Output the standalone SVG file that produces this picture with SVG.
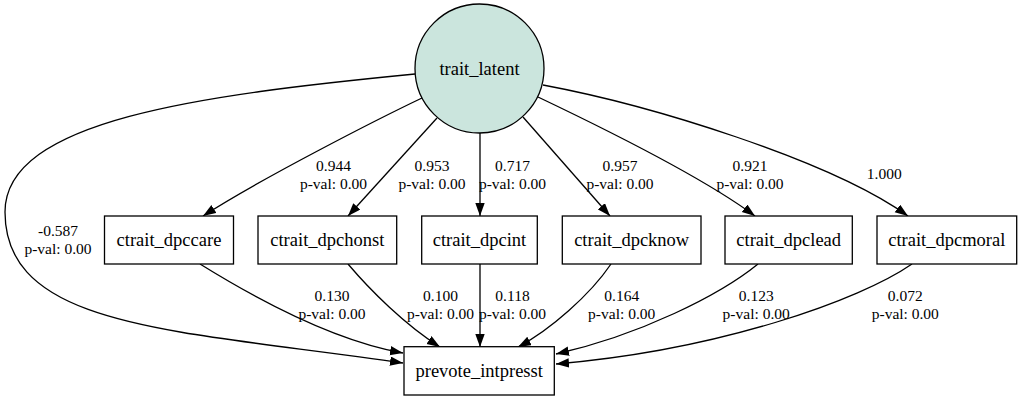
<svg xmlns="http://www.w3.org/2000/svg" width="1023" height="400" viewBox="0 0 1023 400">
<style>
.n{fill:#fff;stroke:#000;stroke-width:1.3}
.c{fill:#cbe5dd;stroke:#000;stroke-width:1.3}
.t{font-family:"Liberation Serif","Times New Roman",serif;font-size:18.5px;text-anchor:middle;fill:#000}
.l{font-family:"Liberation Serif","Times New Roman",serif;font-size:15.5px;text-anchor:middle;fill:#000}
.e{fill:none;stroke:#000;stroke-width:1.3;marker-end:url(#a)}
</style>
<defs>
<marker id="a" markerUnits="userSpaceOnUse" markerWidth="14" markerHeight="10" refX="13" refY="4.7" orient="auto">
<path d="M0,0 L13,4.7 L0,9.4 z" fill="#000"/>
</marker>
</defs>
<rect width="1023" height="400" fill="#fff"/>
<g id="connectors">
<path class="e" d="M415,74 C200,95 5,120 5,212 C5,330 180,330 403,363"/>
<path class="e" d="M422,98 C380,118 262,178 203,216"/>
<path class="e" d="M437,118 L348,216"/>
<path class="e" d="M480,133 L480,216"/>
<path class="e" d="M523,117 L610,216"/>
<path class="e" d="M538,97 C580,117 700,175 755,216"/>
<path class="e" d="M543,85 C650,105 830,160 908,216"/>
<path class="e" d="M200,264 C250,295 330,340 403,353"/>
<path class="e" d="M348,264 C370,290 405,325 440,347"/>
<path class="e" d="M480,264 L480,347"/>
<path class="e" d="M611,264 C590,295 550,330 518,347"/>
<path class="e" d="M758,264 C720,295 640,335 556,354"/>
<path class="e" d="M912,264 C860,300 720,350 556,364"/>
<text class="l" x="58" y="236">-0.587</text><text class="l" x="58" y="254">p-val: 0.00</text>
<text class="l" x="333.5" y="170.5">0.944</text><text class="l" x="333.5" y="189">p-val: 0.00</text>
<text class="l" x="432" y="170.5">0.953</text><text class="l" x="432" y="189">p-val: 0.00</text>
<text class="l" x="512.5" y="170.5">0.717</text><text class="l" x="512.5" y="189">p-val: 0.00</text>
<text class="l" x="620" y="170.5">0.957</text><text class="l" x="620" y="189">p-val: 0.00</text>
<text class="l" x="750" y="170.5">0.921</text><text class="l" x="750" y="189">p-val: 0.00</text>
<text class="l" x="884.3" y="179">1.000</text>
<text class="l" x="332" y="300.5">0.130</text><text class="l" x="332" y="318.5">p-val: 0.00</text>
<text class="l" x="440.5" y="300.5">0.100</text><text class="l" x="440.5" y="318.5">p-val: 0.00</text>
<text class="l" x="512.5" y="300.5">0.118</text><text class="l" x="512.5" y="318.5">p-val: 0.00</text>
<text class="l" x="621.7" y="300.5">0.164</text><text class="l" x="621.7" y="318.5">p-val: 0.00</text>
<text class="l" x="756.2" y="300.5">0.123</text><text class="l" x="756.2" y="318.5">p-val: 0.00</text>
<text class="l" x="905.3" y="300.5">0.072</text><text class="l" x="905.3" y="318.5">p-val: 0.00</text>
</g>
<g id="trait_latent">
<circle class="c" cx="479.5" cy="68.5" r="64.5"/>
<text class="t" x="479.5" y="74.5">trait_latent</text>
</g>
<g id="ctrait_dpccare">
<rect class="n" x="104.5" y="216" width="129" height="48"/>
<text class="t" x="169" y="246">ctrait_dpccare</text>
</g>
<g id="ctrait_dpchonst">
<rect class="n" x="258" y="216" width="138.7" height="48"/>
<text class="t" x="327.3" y="246">ctrait_dpchonst</text>
</g>
<g id="ctrait_dpcint">
<rect class="n" x="421.7" y="216" width="115.6" height="48"/>
<text class="t" x="479.5" y="246">ctrait_dpcint</text>
</g>
<g id="ctrait_dpcknow">
<rect class="n" x="562.3" y="216" width="138.7" height="48"/>
<text class="t" x="631.7" y="246">ctrait_dpcknow</text>
</g>
<g id="ctrait_dpclead">
<rect class="n" x="725" y="216" width="127.3" height="48"/>
<text class="t" x="788.7" y="246">ctrait_dpclead</text>
</g>
<g id="ctrait_dpcmoral">
<rect class="n" x="877" y="216" width="139.7" height="48"/>
<text class="t" x="946.8" y="246">ctrait_dpcmoral</text>
</g>
<g id="prevote_intpresst">
<rect class="n" x="404" y="346.7" width="150.3" height="48.3"/>
<text class="t" x="479.2" y="377">prevote_intpresst</text>
</g>
</svg>
